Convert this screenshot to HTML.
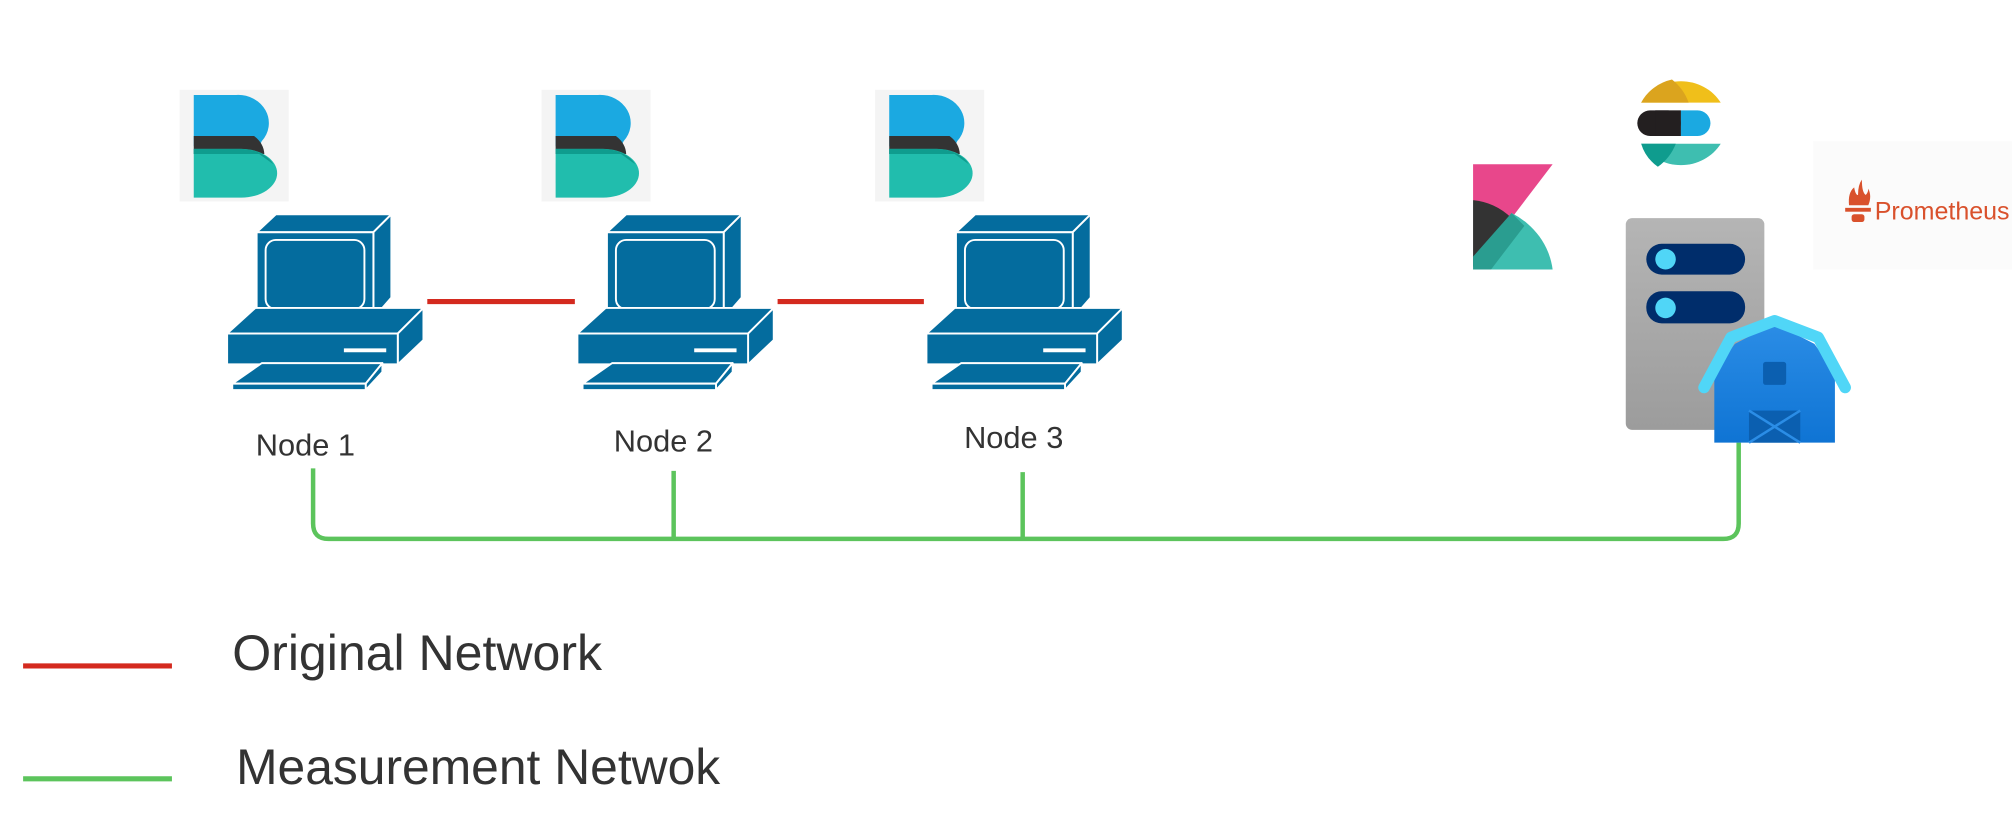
<!DOCTYPE html>
<html><head><meta charset="utf-8"><style>
html,body{margin:0;padding:0;background:#fff;}
svg{display:block;}
text{font-family:"Liberation Sans",sans-serif;}
</style></head><body>
<svg width="2012" height="834" viewBox="0 0 1568 650" preserveAspectRatio="none" xmlns="http://www.w3.org/2000/svg">
<defs>
<g id="blogo">
  <rect x="0" y="0" width="85" height="87" fill="#f4f4f4"/>
  <path d="M11 4 H44 A24 22 0 0 1 64 40 L62 44 H11 Z" fill="#1ba9e1"/>
  <path d="M11 36 H58 A24 20 0 0 1 66 50 H11 Z" fill="#333"/>
  <path d="M11 46 H48 A28 19 0 0 1 48 84 H11 Z" fill="#21bdad"/>
  <path d="M11 46 H48 A28 19 0 0 1 73 58 L62 50 H11 Z" fill="#0f9c8e"/>
</g>
<g id="pc" stroke="#fff" stroke-width="1.5" stroke-linejoin="round">
  <polygon points="200,181 291,181 305,167 215,167" fill="#046c9e"/>
  <polygon points="291,181 305,167 305,232 291,248" fill="#046c9e"/>
  <rect x="200" y="181" width="91" height="67" fill="#046c9e"/>
  <rect x="207" y="187" width="77" height="54" rx="8" fill="#046c9e"/>
  <polygon points="177,260 310,260 330,240 199,240" fill="#046c9e"/>
  <polygon points="310,260 330,240 330,265 310,284" fill="#046c9e"/>
  <rect x="177" y="260" width="133" height="24" fill="#046c9e"/>
  <line x1="268" y1="273" x2="301" y2="273" stroke-width="3"/>
  <polygon points="181,299 204,283 298,283 285,299" fill="#046c9e"/>
  <polygon points="285,299 298,283 298,290 285,304" fill="#046c9e"/>
  <rect x="181" y="299" width="104" height="5" fill="#046c9e"/>
</g>
</defs>

<use href="#blogo" x="140" y="70"/>
<use href="#blogo" x="422" y="70"/>
<use href="#blogo" x="682" y="70"/>

<use href="#pc"/>
<use href="#pc" x="273"/>
<use href="#pc" x="545"/>

<text x="238" y="355" font-size="24" fill="#333" text-anchor="middle">Node 1</text>
<text x="517" y="352" font-size="24" fill="#333" text-anchor="middle">Node 2</text>
<text x="790" y="349" font-size="24" fill="#333" text-anchor="middle">Node 3</text>

<g stroke="#d42a1f" stroke-width="4">
  <line x1="333" y1="235" x2="448" y2="235"/>
  <line x1="606" y1="235" x2="720" y2="235"/>
</g>
<g stroke="#5cc45c" stroke-width="3.5" fill="none">
  <path d="M244 365 V408 Q244 420 256 420 H1343 Q1355 420 1355 408 V345"/>
  <line x1="525" y1="367" x2="525" y2="420"/>
  <line x1="797" y1="368" x2="797" y2="420"/>
</g>

<line x1="18" y1="519" x2="134" y2="519" stroke="#d42a1f" stroke-width="4"/>
<text x="181" y="522" font-size="39" fill="#333">Original Network</text>
<line x1="18" y1="607" x2="134" y2="607" stroke="#5cc45c" stroke-width="4"/>
<text x="184" y="611" font-size="38.8" fill="#333">Measurement Netwok</text>

<!-- kibana -->
<polygon points="1148,128 1210,128 1178,170 1148,156" fill="#e8478b"/>
<path d="M1148 156 A50 50 0 0 1 1178 170 L1148 208 Z" fill="#333"/>
<path d="M1148 210 L1178 166 A62 58 0 0 1 1210 210 Z" fill="#3ebeb0"/>
<path d="M1148 210 L1148 200 L1178 166 L1188 176 L1162 210 Z" fill="#2a9d90"/>

<!-- elastic -->
<path d="M1279 80 A36 34 0 0 1 1341 80 Z" fill="#f0bf1a"/>
<path d="M1279 80 A36 34 0 0 1 1303 62 A40 40 0 0 1 1316 80 Z" fill="#dba41e"/>
<rect x="1276" y="86" width="34" height="20" rx="10" fill="#231f20"/>
<rect x="1290" y="86" width="20" height="20" fill="#231f20"/>
<path d="M1310 86 H1323 A10 10 0 0 1 1323 106 H1310 Z" fill="#1ba9e1"/>
<path d="M1279 112 H1341 A36 34 0 0 1 1279 112 Z" fill="#3ebeb0"/>
<path d="M1279 112 H1306 A40 40 0 0 1 1292 130 A36 34 0 0 1 1279 112 Z" fill="#0f9c8e"/>

<!-- server -->
<defs><linearGradient id="sg" x1="0" y1="0" x2="0" y2="1"><stop offset="0" stop-color="#b5b5b5"/><stop offset="1" stop-color="#9c9c9c"/></linearGradient>
<linearGradient id="bg" x1="0" y1="0" x2="0" y2="1"><stop offset="0" stop-color="#2b8de6"/><stop offset="1" stop-color="#0f74d4"/></linearGradient></defs>
<rect x="1267" y="170" width="108" height="165" rx="5" fill="url(#sg)"/>
<rect x="1283" y="190" width="77" height="24" rx="12" fill="#002d6b"/>
<circle cx="1298" cy="202" r="8" fill="#50d6f7"/>
<rect x="1283" y="227" width="77" height="25" rx="12" fill="#002d6b"/>
<circle cx="1298" cy="240" r="8" fill="#50d6f7"/>

<!-- barn -->
<polygon points="1336,345 1336,290 1352,268 1383,252 1414,268 1430,290 1430,345" fill="url(#bg)"/>
<path d="M1328 302 L1349 263 L1383 250 L1417 263 L1438 302" stroke="#50d6f7" stroke-width="9" fill="none" stroke-linejoin="round" stroke-linecap="round"/>
<rect x="1374" y="282" width="18" height="18" rx="2" fill="#0b5fb0"/>
<rect x="1363" y="320" width="40" height="25" fill="#0b5fb0"/>
<path d="M1363 320 L1403 345 M1403 320 L1363 345" stroke="#2b8de6" stroke-width="2"/>

<!-- prometheus -->
<rect x="1413" y="110" width="155" height="100" fill="#fbfbfb"/>
<path d="M1441 160 Q1440 150 1445 146 Q1446 152 1448 152 Q1448 144 1451 140 Q1451 150 1454 152 Q1456 150 1456 147 Q1459 153 1456 160 Z" fill="#d9512c"/>
<rect x="1438" y="162" width="20" height="3" fill="#d9512c"/>
<rect x="1443" y="167" width="10" height="6" rx="2" fill="#d9512c"/>
<text x="1461" y="171" font-size="19.5" fill="#d9512c">Prometheus</text>
</svg>
</body></html>
